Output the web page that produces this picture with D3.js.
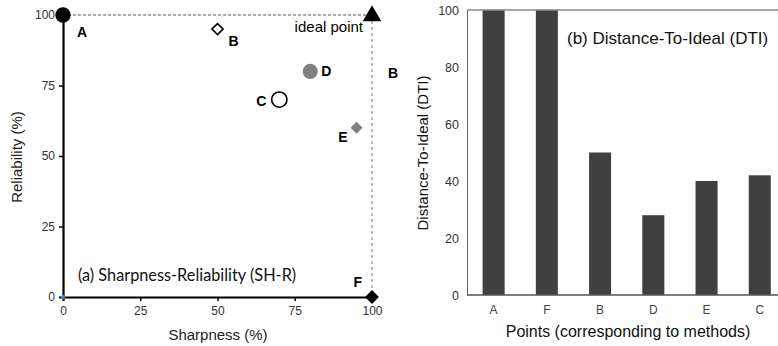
<!DOCTYPE html>
<meta charset="utf-8">
<style>
body { margin: 0; background: #fff; }
text { font-family: Arial, "Liberation Sans", sans-serif; }
.lbl { font-weight: bold; font-size: 14px; fill: #000; }
</style>
<svg width="778" height="346"></svg>
<script src="https://d3js.org/d3.v7.min.js"></script>
<script>

  // (a) scatter: sharpness vs reliability
  var pointNames = ["A", "B", "C", "D", "E", "F"];
  var sharpness = [0, 50, 70, 80, 95, 100];
  var reliability = [100, 95, 70, 80, 60, 0];
  var ideal = [100, 100];
  var scatterTicks = [0, 25, 50, 75, 100];

  // (b) bars: distance to ideal
  var dtiCategories = ["A", "F", "B", "D", "E", "C"];
  var dtiValues = [100, 100, 50, 28, 40, 42];
  var dtiTicks = [0, 20, 40, 60, 80, 100];

  var svg = d3.select("svg");

  // ---------- left panel ----------
  var x = d3.scaleLinear().domain([0, 100]).range([63, 372]);
  var y = d3.scaleLinear().domain([0, 100]).range([297, 15]);

  var left = svg.append("g");

  // dashed guides to the ideal point
  left.append("line")
    .attr("x1", x(0)).attr("y1", y(100)).attr("x2", x(ideal[0])).attr("y2", y(100))
    .attr("stroke", "#555").attr("stroke-dasharray", "3,2").attr("stroke-width", 1);
  left.append("line")
    .attr("x1", x(100)).attr("y1", y(ideal[1])).attr("x2", x(100)).attr("y2", y(0))
    .attr("stroke", "#777").attr("stroke-dasharray", "3,3").attr("stroke-width", 1);

  var xAxis = left.append("g")
    .attr("transform", "translate(0," + y(0) + ")")
    .call(d3.axisBottom(x).tickValues(scatterTicks).tickSize(4).tickPadding(5));
  var yAxis = left.append("g")
    .attr("transform", "translate(" + x(0) + ",0)")
    .call(d3.axisLeft(y).tickValues(scatterTicks).tickSize(4).tickPadding(4));
  [xAxis, yAxis].forEach(function(a) {
    a.select(".domain").attr("stroke", "#000").attr("stroke-width", 2.2);
    a.selectAll(".tick line").attr("stroke", "#000").attr("stroke-width", 1.5);
    a.selectAll(".tick text").style("font-size", "12px").attr("fill", "#333");
  });
  xAxis.selectAll(".tick line").filter(function(d) { return d === 0 || d === 100; }).remove();
  yAxis.selectAll(".tick line").filter(function(d) { return d === 0 || d === 100; }).remove();

  // tiny blue marker at the origin
  left.append("path")
    .attr("d", d3.symbol().type(d3.symbolSquare).size(14))
    .attr("transform", "translate(" + x(0) + "," + y(0) + ") rotate(45)")
    .attr("fill", "#4f81bd");

  var styles = {
    A: { sym: d3.symbolCircle, size: 185, fill: "#000", stroke: "none", rot: 0 },
    B: { sym: d3.symbolSquare, size: 62, fill: "#fff", stroke: "#000", rot: 45 },
    C: { sym: d3.symbolCircle, size: 185, fill: "#fff", stroke: "#000", rot: 0 },
    D: { sym: d3.symbolCircle, size: 180, fill: "#808080", stroke: "none", rot: 0 },
    E: { sym: d3.symbolSquare, size: 72, fill: "#808080", stroke: "none", rot: 45 },
    F: { sym: d3.symbolSquare, size: 95, fill: "#000", stroke: "none", rot: 45 }
  };
  var labelOffsets = {
    A: [14, 22, "start"], B: [11, 17, "start"], C: [-13, 6, "end"],
    D: [11, 5, "start"], E: [-9, 14, "end"], F: [-10, -10, "end"]
  };

  pointNames.forEach(function(n, i) {
    var s = styles[n];
    left.append("path")
      .attr("d", d3.symbol().type(s.sym).size(s.size))
      .attr("transform", "translate(" + x(sharpness[i]) + "," + y(reliability[i]) + ") rotate(" + s.rot + ")")
      .attr("fill", s.fill).attr("stroke", s.stroke).attr("stroke-width", 1.6);
    var o = labelOffsets[n];
    left.append("text").attr("class", "lbl")
      .attr("x", x(sharpness[i]) + o[0]).attr("y", y(reliability[i]) + o[1])
      .attr("text-anchor", o[2]).text(n);
  });

  // ideal point
  left.append("path")
    .attr("d", d3.symbol().type(d3.symbolTriangle).size(150))
    .attr("transform", "translate(" + x(ideal[0]) + "," + (y(ideal[1]) + 1) + ")")
    .attr("fill", "#000");
  left.append("text")
    .attr("x", x(ideal[0]) - 9).attr("y", y(ideal[1]) + 17)
    .attr("text-anchor", "end").style("font-size", "15px").text("ideal point");

  // stray label outside the plot
  left.append("text").attr("class", "lbl")
    .attr("x", 388).attr("y", 78).text("B");

  left.append("text")
    .attr("x", 78).attr("y", 281)
    .style("font-family", "Lato, 'Open Sans', sans-serif").style("font-size", "16.3px")
    .attr("fill", "#111")
    .text("(a) Sharpness-Reliability  (SH-R)");

  left.append("text")
    .attr("x", 218).attr("y", 340).attr("text-anchor", "middle")
    .style("font-size", "15px").attr("fill", "#222").text("Sharpness (%)");
  left.append("text")
    .attr("transform", "translate(22,157) rotate(-90)")
    .attr("text-anchor", "middle")
    .style("font-size", "15px").attr("fill", "#222").text("Reliability (%)");

  // ---------- right panel ----------
  var xb = d3.scaleBand().domain(dtiCategories)
    .range([467, 786.4]).paddingInner(0.586).paddingOuter(0.293);
  var yb = d3.scaleLinear().domain([0, 100]).range([295, 10]);

  var right = svg.append("g");

  right.selectAll(".bar")
    .data(dtiCategories)
    .enter().append("rect")
    .attr("class", "bar")
    .attr("x", function(d) { return xb(d); })
    .attr("y", function(d, i) { return yb(dtiValues[i]); })
    .attr("width", xb.bandwidth())
    .attr("height", function(d, i) { return yb(0) - yb(dtiValues[i]); })
    .attr("fill", "#404040");

  // top frame line
  right.append("line")
    .attr("x1", 467).attr("x2", 778).attr("y1", yb(100)).attr("y2", yb(100))
    .attr("stroke", "#888").attr("stroke-width", 1.5);

  var yAxisB = right.append("g")
    .attr("transform", "translate(467,0)")
    .call(d3.axisLeft(yb).tickValues(dtiTicks).tickSize(0).tickPadding(8));
  yAxisB.select(".domain").attr("stroke", "#666").attr("stroke-width", 1);
  yAxisB.selectAll(".tick text").style("font-size", "12.5px").attr("fill", "#333");

  var xAxisB = right.append("g")
    .attr("transform", "translate(0," + yb(0) + ")")
    .call(d3.axisBottom(xb).tickSize(0).tickPadding(10));
  xAxisB.select(".domain").attr("d", "M467,0H778").attr("stroke", "#555").attr("stroke-width", 1.5);
  xAxisB.selectAll(".tick text").style("font-size", "12px").attr("fill", "#444");

  right.append("text")
    .attr("x", 567).attr("y", 44)
    .style("font-size", "17px").attr("fill", "#111")
    .text("(b) Distance-To-Ideal (DTI)");

  right.append("text")
    .attr("x", 628).attr("y", 337).attr("text-anchor", "middle")
    .style("font-size", "16px").attr("fill", "#111")
    .text("Points (corresponding to methods)");
  right.append("text")
    .attr("transform", "translate(428,153) rotate(-90)")
    .attr("text-anchor", "middle")
    .style("font-size", "15px").attr("fill", "#111")
    .text("Distance-To-Ideal (DTI)");
</script>
